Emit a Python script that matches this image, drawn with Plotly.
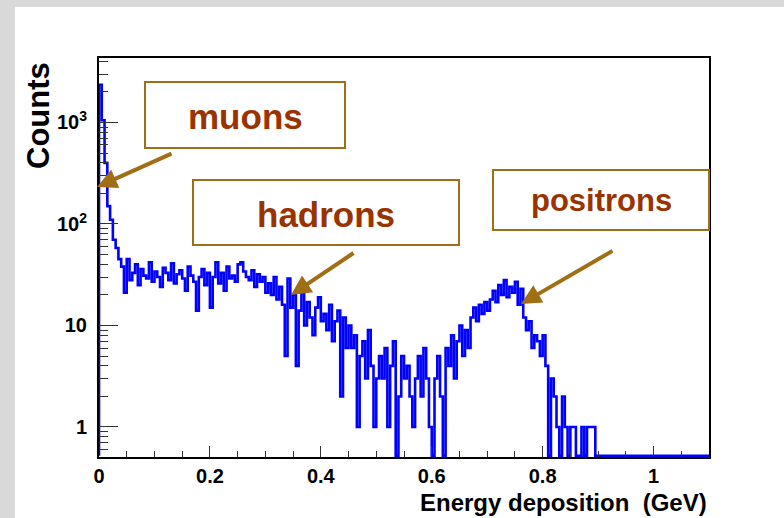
import numpy as np
import plotly.graph_objects as go

# ---------------- data ----------------
bin_start = 0.0
bin_width = 0.005  # GeV
counts = [
    2350, 1050, 400, 150, 110, 70, 58, 45,
    38, 21, 45, 28, 33, 40, 25, 36, 31, 29,
    42, 27, 34, 30, 24, 37, 33, 28, 41, 26,
    32, 35, 29, 22, 38, 31, 27, 14, 30, 36,
    25, 33, 15,
    30, 42, 26, 33, 22, 38, 29, 31, 27, 40,
    42, 34, 30, 28, 35, 24, 32, 27, 30, 21,
    26, 20, 30, 18, 24, 16, 5, 29, 15, 20,
    4, 14, 22, 10, 17, 12, 8, 15, 19, 11,
    13, 9, 16, 7, 11, 14, 2, 12, 6, 10,
    6, 8, 1, 5, 7, 3, 9, 4, 1, 3,
    5, 3, 6, 1, 4, 7, 0, 2, 5, 3,
    4, 2, 1, 3, 5, 2, 6, 3, 1, 0,
    3, 5, 2, 0, 6, 4, 8, 3, 7, 10, 5, 9, 6,
    12, 15, 11, 16, 13, 17, 14, 18,
    22, 17, 25, 20, 28, 19, 24, 21, 27, 16, 23,
    12, 9, 11, 6, 8, 7, 5, 8,
    4, 0, 3, 2,
    1, 0, 2, 1, 0, 1, 1, 0, 0, 1, 0, 1, 1, 1,
] + [0] * 41

y_tick_vals = [1, 10, 100, 1000]
y_tick_text = ["1", "10", "10<sup>2</sup>", "10<sup>3</sup>"]
x_tick_vals = [0, 0.2, 0.4, 0.6, 0.8, 1.0]
x_tick_text = ["0", "0.2", "0.4", "0.6", "0.8", "1"]

labels = ["muons", "hadrons", "positrons"]
x_title = "Energy deposition\u00a0\u00a0(GeV)"
y_title = "Counts"

# ---------------- geometry ----------------
W, H = 784, 518
L, R, T, B = 99, 709, 58, 457  # plot area in pixels
y_lo, y_hi = -0.2956, 3.635
x_lo, x_hi = 0.0, 1.1

def px(X):
    return (X - L) / (R - L)

def py(Y):
    return (B - Y) / (B - T)

# histogram step line (zero bins drawn on the bottom edge, like ROOT)
floor_val = 10 ** (y_lo + 0.012)
n = len(counts)
edges = bin_start + bin_width * np.arange(n + 1)
yv = [c if c > 0 else floor_val for c in counts]
xs = [edges[0]] + list(edges[:-1]) + [edges[-1]]
ys = [floor_val] + yv + [yv[-1]]

fig = go.Figure()
fig.add_trace(go.Scatter(
    x=xs, y=ys, mode="lines", line=dict(color="#0000ff", width=2.6, shape="hv"),
    hoverinfo="skip", showlegend=False))

font_fam = "Liberation Sans, Arial, Helvetica, sans-serif"
tick_font = dict(family=font_fam, size=20, color="black", weight="bold")

fig.update_layout(
    width=W, height=H,
    margin=dict(l=L, r=W - R, t=T, b=H - B, pad=0),
    paper_bgcolor="#d9d9d9",
    plot_bgcolor="white",
    showlegend=False,
    xaxis=dict(
        range=[x_lo, x_hi], showgrid=False, zeroline=False,
        showline=True, linecolor="black", linewidth=2, mirror=True,
        ticks="inside", ticklen=11, tickwidth=1, tickcolor="#333",
        tickvals=x_tick_vals, ticktext=x_tick_text, tickfont=tick_font,
        ticklabelstandoff=0,
        minor=dict(ticks="inside", ticklen=6, dtick=0.05, tickcolor="#333",
                   tickwidth=1, showgrid=False),
    ),
    yaxis=dict(
        type="log", range=[y_lo, y_hi], showgrid=False, zeroline=False,
        showline=True, linecolor="black", linewidth=2, mirror=True,
        ticks="inside", ticklen=19, tickwidth=1, tickcolor="#333",
        tickvals=y_tick_vals, ticktext=y_tick_text, tickfont=tick_font,
        ticklabelstandoff=6,
        minor=dict(ticks="inside", ticklen=9, dtick="D1", tickcolor="#333",
                   tickwidth=1, showgrid=False),
    ),
)

# white canvas over the grey page
fig.add_shape(type="rect", xref="paper", yref="paper", layer="below",
              x0=px(15), x1=px(800), y0=py(7), y1=py(530),
              line=dict(width=0), fillcolor="white")

box_col = "#a06e14"
txt_col = "#993300"
boxes = [
    (145, 345, 82, 148, 245, 116, 35),
    (193, 459, 180, 245, 326, 214, 35),
    (493, 709, 170, 230, 601, 200, 31),
]
for lab, (x0, x1, y0, y1, tx, ty, fs) in zip(labels, boxes):
    fig.add_shape(type="rect", xref="paper", yref="paper", layer="above",
                  x0=px(x0), x1=px(x1), y0=py(y1), y1=py(y0),
                  line=dict(color=box_col, width=2), fillcolor="white")
    fig.add_annotation(xref="paper", yref="paper", x=px(tx), y=py(ty),
                       text=lab, showarrow=False, xanchor="center", yanchor="middle",
                       font=dict(family=font_fam, size=fs, color=txt_col, weight="bold"))

arrows = [
    ((97, 187), (173, 153)),
    ((291, 295), (355, 252)),
    ((521, 304), (614, 250)),
]
for (tx, ty), (sx, sy) in arrows:
    fig.add_annotation(xref="paper", yref="paper", x=px(tx), y=py(ty),
                       ax=sx - tx, ay=sy - ty, text="", showarrow=True,
                       arrowhead=2, arrowsize=1.0, arrowwidth=4, arrowcolor=box_col,
                       standoff=0)

# axis titles (ROOT style: right / top aligned)
fig.add_annotation(xref="paper", yref="paper", x=px(709), y=py(502),
                   text=x_title, showarrow=False, xanchor="right", yanchor="middle",
                   font=dict(family=font_fam, size=24, color="black", weight="bold"))
fig.add_annotation(xref="paper", yref="paper", x=px(38), y=py(116),
                   text=y_title, showarrow=False, textangle=-90,
                   xanchor="center", yanchor="middle",
                   font=dict(family=font_fam, size=31, color="black", weight="bold"))

fig.write_html("out.html")
